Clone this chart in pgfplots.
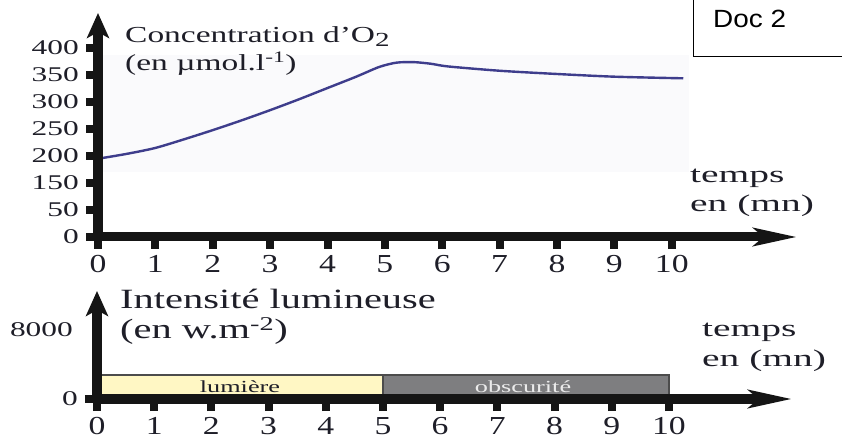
\documentclass[border=0pt]{standalone}
\usepackage{fontspec}
\setmainfont{Liberation Serif}
\newfontfamily\arialf{Liberation Sans}
\usepackage{graphicx}
\usepackage{pgfplots}
\pgfplotsset{compat=1.18}
\usetikzlibrary{arrows.meta}
\definecolor{txt}{HTML}{1E1E28}
\definecolor{curve}{HTML}{3E3D8C}
\definecolor{lum}{HTML}{FFF7C4}
\definecolor{obs}{HTML}{7E7E80}
\definecolor{bgc}{HTML}{FAFAFC}
\definecolor{axc}{HTML}{151515}
\newcommand\XL[1]{{\fontsize{26}{26}\selectfont\scalebox{1.3}[1]{#1}}}
\newcommand\YL[1]{{\fontsize{21}{21}\selectfont\scalebox{1.5}[1]{#1}}}
\newcommand\TT[1]{{\fontsize{24}{24}\selectfont\scalebox{1.65}[1]{#1}}}
\begin{document}
\begin{tikzpicture}
\useasboundingbox (0,0) rectangle (842bp,442bp);
\pgfplotsset{
  myaxis/.style={
    scale only axis, anchor=south west,
    axis lines=left, enlargelimits=false, axis on top, clip=false,
    axis line style={line width=9bp, draw=axc},
    x axis line style={-{Stealth[length=43bp,width=17bp,inset=9bp]}},
    y axis line style={-{Stealth[length=25bp,width=22bp,inset=6bp]}},
    tick align=outside, major tick length=12bp,
    tick style={line width=8bp, draw=axc},
    scaled y ticks=false,
    xtick={0,1,2,3,4,5,6,7,8,9,10},
    xticklabels={\XL{0},\XL{1},\XL{2},\XL{3},\XL{4},\XL{5},\XL{6},\XL{7},\XL{8},\XL{9},\XL{10}},
    xticklabel style={text=txt, inner sep=0pt, yshift=-6bp},
    yticklabel style={text=txt, inner sep=0pt, xshift=-7bp},
  }
}
% Top axis
\begin{axis}[myaxis,
  at={(98bp,205bp)}, width=700bp, height=224bp,
  xmin=0, xmax=12.2, ymin=50, ymax=465,
  ytick={50,100,150,200,250,300,350,400},
  yticklabels={\YL{0},\YL{50},\YL{150},\YL{200},\YL{250},\YL{300},\YL{350},\YL{400}},
]
\addplot[draw=none, fill=bgc] coordinates {(0.05,170) (10.3,170) (10.3,387) (0.05,387)} -- cycle;
\addplot[curve, line width=2.4bp, smooth, tension=0.45] coordinates {
 (0,195) (0.5,204) (1,215) (1.5,231) (2,248) (2.5,266) (3,285) (3.5,305)
 (4,326) (4.5,347) (4.9,365) (5.2,373) (5.5,374) (5.8,371) (6.1,366)
 (7,358) (8,352) (9,347) (10.2,344)};
\end{axis}
% Bottom axis
\begin{axis}[myaxis,
  at={(97bp,43bp)}, width=696bp, height=108bp,
  xmin=0, xmax=12.17, ymin=0, ymax=12522,
  ytick={0}, yticklabels={\YL{0}},
]
\addplot[draw=black!70, line width=1.3bp, fill=lum] coordinates {(0,0) (0,2800) (5,2800) (5,0)} -- cycle;
\addplot[draw=black!70, line width=1.3bp, fill=obs] coordinates {(5,0) (5,2800) (10,2800) (10,0)} -- cycle;
\node[text=txt, inner sep=0pt, font=\fontsize{17}{17}\selectfont] at (axis cs:2.5,1400) {\scalebox{1.55}[1]{lumière}};
\node[text=black!8, inner sep=0pt, font=\fontsize{17}{17}\selectfont] at (axis cs:7.45,1400) {\scalebox{1.55}[1]{obscurité}};
\node[anchor=east, inner sep=0pt, text=txt] at ([xshift=-24bp]axis cs:0,8000) {\YL{8000}};
\end{axis}
% Texts
\node[anchor=base west, inner sep=0pt, text=txt, font=\fontsize{23}{23}\selectfont] at (125bp,399bp) {\scalebox{1.46}[1]{Concentration d’O\raisebox{-0.35ex}{\fontsize{20}{20}\selectfont 2}}};
\node[anchor=base west, inner sep=0pt, text=txt, font=\fontsize{23}{23}\selectfont] at (125bp,371bp) {\scalebox{1.46}[1]{(en µmol.l\textsuperscript{-1})}};
\node[anchor=base west, inner sep=0pt, text=txt] at (690bp,259bp) {\TT{temps}};
\node[anchor=base west, inner sep=0pt, text=txt] at (690bp,230bp) {\TT{en (mn)}};
\node[anchor=base west, inner sep=0pt, text=txt, font=\fontsize{28}{28}\selectfont] at (120bp,133bp) {\scalebox{1.45}[1]{Intensité lumineuse}};
\node[anchor=base west, inner sep=0pt, text=txt, font=\fontsize{28}{28}\selectfont] at (120bp,103bp) {\scalebox{1.45}[1]{(en w.m\textsuperscript{-2})}};
\node[anchor=base west, inner sep=0pt, text=txt] at (702bp,105bp) {\TT{temps}};
\node[anchor=base west, inner sep=0pt, text=txt] at (702bp,75bp) {\TT{en (mn)}};
% Doc 2 box
\draw[line width=1bp, black] (693.5bp,443bp) -- (693.5bp,385bp) -- (843bp,385bp);
\node[anchor=base west, inner sep=0pt, font=\arialf\fontsize{25}{25}\selectfont] at (713bp,414bp) {\scalebox{1.12}[1]{Doc 2}};
\end{tikzpicture}
\end{document}
